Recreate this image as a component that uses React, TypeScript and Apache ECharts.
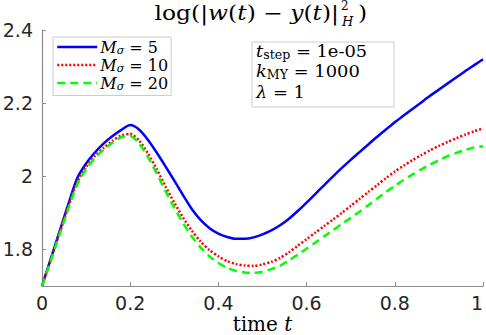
import React, { useEffect, useRef } from "react";
import * as echarts from "echarts";

const tValues = [
  0, 0.02, 0.04, 0.06, 0.08, 0.1, 0.12, 0.14, 0.16, 0.18, 0.2, 0.22, 0.24, 0.26, 0.28, 0.3, 0.32,
  0.34, 0.36, 0.38, 0.4, 0.42, 0.44, 0.46, 0.48, 0.5, 0.52, 0.54, 0.56, 0.58, 0.6, 0.62, 0.64,
  0.66, 0.68, 0.7, 0.72, 0.74, 0.76, 0.78, 0.8, 0.82, 0.84, 0.86, 0.88, 0.9, 0.92, 0.94, 0.96,
  0.98, 1,
];

const sigmaValues = ["5", "10", "20"];

const m5 = [
  1.7, 1.775, 1.85, 1.925, 1.995, 2.035, 2.065, 2.09, 2.11, 2.127, 2.14, 2.128, 2.1, 2.065, 2.027,
  1.988, 1.948, 1.91, 1.88, 1.858, 1.843, 1.834, 1.829, 1.829, 1.833, 1.841, 1.852, 1.866, 1.884,
  1.905, 1.928, 1.952, 1.976, 2.0, 2.023, 2.045, 2.066, 2.087, 2.108, 2.128, 2.148, 2.166, 2.184,
  2.202, 2.22, 2.237, 2.254, 2.271, 2.288, 2.304, 2.32,
];

const m10 = [
  1.7, 1.772, 1.845, 1.918, 1.985, 2.025, 2.055, 2.078, 2.097, 2.112, 2.116, 2.098, 2.063, 2.02,
  1.972, 1.928, 1.887, 1.851, 1.821, 1.798, 1.781, 1.768, 1.76, 1.756, 1.755, 1.759, 1.766, 1.777,
  1.792, 1.81, 1.828, 1.846, 1.864, 1.882, 1.9, 1.919, 1.938, 1.957, 1.976, 1.995, 2.013, 2.029,
  2.044, 2.058, 2.071, 2.083, 2.094, 2.104, 2.114, 2.123, 2.131,
];

const m20 = [
  1.7, 1.77, 1.842, 1.913, 1.978, 2.02, 2.05, 2.073, 2.092, 2.107, 2.11, 2.09, 2.053, 2.008, 1.96,
  1.914, 1.872, 1.835, 1.805, 1.781, 1.763, 1.75, 1.741, 1.737, 1.736, 1.739, 1.746, 1.756, 1.77,
  1.786, 1.802, 1.819, 1.836, 1.853, 1.87, 1.886, 1.903, 1.921, 1.939, 1.957, 1.974, 1.99, 2.005,
  2.019, 2.032, 2.044, 2.055, 2.064, 2.072, 2.079, 2.082,
];

const xTicks = [0, 0.2, 0.4, 0.6, 0.8, 1];
const yTicks = [1.8, 2, 2.2, 2.4];

const paramNames = ["t", "k", "λ"];
const paramSubs = ["step", "MY", ""];
const paramValues = ["1e-05", "1000", "1"];

const seriesNames = sigmaValues.map((v) => `Mσ = ${v}`);
const seriesValues = [m5, m10, m20];
const seriesColors = ["#0000ff", "#ff0000", "#00ff00"];
const seriesTypes: any[] = ["solid", [2, 2], [8, 5]];

const SERIF = "DejaVu Serif";
const SANS = "DejaVu Sans";

function richStyles(size: number, subSize: number, lh: number) {
  return {
    n: { fontFamily: SERIF, fontSize: size, fill: "#000", color: "#000", lineHeight: lh },
    i: { fontFamily: SERIF, fontSize: size, fontStyle: "italic", fill: "#000", color: "#000", lineHeight: lh },
    s: {
      fontFamily: SERIF,
      fontSize: subSize,
      fontStyle: "italic",
      fill: "#000",
      color: "#000",
      verticalAlign: "bottom",
      lineHeight: subSize,
    },
    r: {
      fontFamily: SERIF,
      fontSize: subSize,
      fill: "#000",
      color: "#000",
      verticalAlign: "bottom",
      lineHeight: subSize,
    },
  };
}

function buildOption(): any {
  const paramTexts = paramNames.map((p, k) => {
    const sub = paramSubs[k] ? `{r|${paramSubs[k]}}` : "";
    return {
      type: "text",
      x: 256,
      y: 51 + k * 20.5,
      scaleX: 1.05,
      style: {
        text: `{i|${p}}${sub}{n| = ${paramValues[k]}}`,
        rich: richStyles(17, 12, 20),
        textAlign: "left",
        align: "left",
        textVerticalAlign: "middle",
        verticalAlign: "middle",
      },
      z: 10,
    };
  });

  const titleRich = richStyles(20, 13, 22);

  return {
    animation: false,
    grid: { left: 42, right: 3, top: 30, bottom: 49, containLabel: false, outerBoundsMode: "none" },
    xAxis: {
      type: "value",
      min: 0,
      max: 1,
      interval: 0.2,
      name: "{n|time }{i|t}",
      nameLocation: "middle",
      nameGap: 29,
      nameMoveOverlap: false,
      nameTextStyle: {
        rich: {
          n: { fontFamily: SERIF, fontSize: 20, color: "#000", lineHeight: 18 },
          i: { fontFamily: SERIF, fontSize: 20, fontStyle: "italic", color: "#000", lineHeight: 18 },
        },
      },
      axisLine: { show: true, onZero: false, lineStyle: { color: "#8c8c8c", width: 1.2 } },
      axisTick: { show: true, inside: true, length: 4, lineStyle: { color: "#8c8c8c" } },
      axisLabel: {
        fontFamily: SANS,
        fontSize: 19,
        color: "#262626",
        margin: 7,
        alignMaxLabel: "right",
        formatter: (v: number) => String(Number(v.toFixed(2))),
        customValues: xTicks,
      },
      splitLine: { show: false },
    },
    yAxis: {
      type: "value",
      min: 1.7,
      max: 2.4,
      axisLine: { show: true, onZero: false, lineStyle: { color: "#8c8c8c", width: 1.2 } },
      axisTick: { show: true, inside: true, length: 4, lineStyle: { color: "#8c8c8c" }, customValues: yTicks },
      axisLabel: {
        fontFamily: SANS,
        fontSize: 19,
        color: "#262626",
        margin: 9,
        customValues: yTicks,
        formatter: (v: number) => String(Number(v.toFixed(2))),
      },
      splitLine: { show: false },
    },
    legend: {
      data: seriesNames,
      orient: "vertical",
      left: 53,
      top: 37,
      backgroundColor: "#ffffff",
      borderColor: "#cccccc",
      borderWidth: 1,
      borderRadius: 0,
      padding: [2, 3, 4, 3],
      itemGap: 1.5,
      itemWidth: 40,
      itemHeight: 16,
      itemStyle: { opacity: 0 },
      lineStyle: { width: 2.5 },
      formatter: (name: string) => {
        const v = name.split("= ")[1];
        return `{i|M}{s|σ}{n| = ${v}}`;
      },
      textStyle: {
        padding: [0, 0, 0, -2],
        rich: richStyles(16, 11, 17),
      },
    },
    graphic: [
      {
        type: "rect",
        shape: { x: 252, y: 42, width: 142, height: 65 },
        style: { fill: "#ffffff", stroke: "#cccccc", lineWidth: 1 },
        z: 9,
      },
      ...paramTexts,
      {
        type: "text",
        x: 339,
        y: 13,
        scaleX: 1.17,
        style: {
          text: "{n|log(|}{i|w}{n|(}{i|t}{n|) − }{i|y}{n|(}{i|t}{n|)|}",
          rich: titleRich,
          textAlign: "right",
          align: "right",
          textVerticalAlign: "middle",
          verticalAlign: "middle",
        },
      },
      {
        type: "text",
        x: 341,
        y: 6,
        style: {
          text: "2",
          fontFamily: SERIF,
          fontSize: 12,
          fill: "#000",
          textAlign: "left",
          align: "left",
          textVerticalAlign: "middle",
          verticalAlign: "middle",
        },
      },
      {
        type: "text",
        x: 342,
        y: 21,
        style: {
          text: "H",
          fontFamily: SERIF,
          fontSize: 13,
          fontStyle: "italic",
          fill: "#000",
          textAlign: "left",
          align: "left",
          textVerticalAlign: "middle",
          verticalAlign: "middle",
        },
      },
      {
        type: "text",
        x: 358,
        y: 13,
        scaleX: 1.17,
        style: {
          text: ")",
          fontFamily: SERIF,
          fontSize: 20,
          fill: "#000",
          textAlign: "left",
          align: "left",
          textVerticalAlign: "middle",
          verticalAlign: "middle",
        },
      },
    ],
    series: seriesNames.map((name, k) => ({
      name,
      type: "line",
      symbol: "none",
      showSymbol: false,
      smooth: 0.25,
      data: tValues.map((t, i) => [t, seriesValues[k][i]]),
      lineStyle: { color: seriesColors[k], width: 2.5, type: seriesTypes[k], cap: "butt" },
      itemStyle: { color: seriesColors[k] },
      z: 2 + k,
    })),
  };
}

export default function App() {
  const ref = useRef<HTMLDivElement>(null);
  useEffect(() => {
    if (!ref.current) return;
    const chart = echarts.init(ref.current, null, { renderer: "svg" });
    chart.setOption(buildOption());
    return () => chart.dispose();
  }, []);
  return (
    <div
      ref={ref}
      style={{ position: "fixed", left: 0, top: 0, width: 486, height: 335, background: "#fff" }}
    />
  );
}
